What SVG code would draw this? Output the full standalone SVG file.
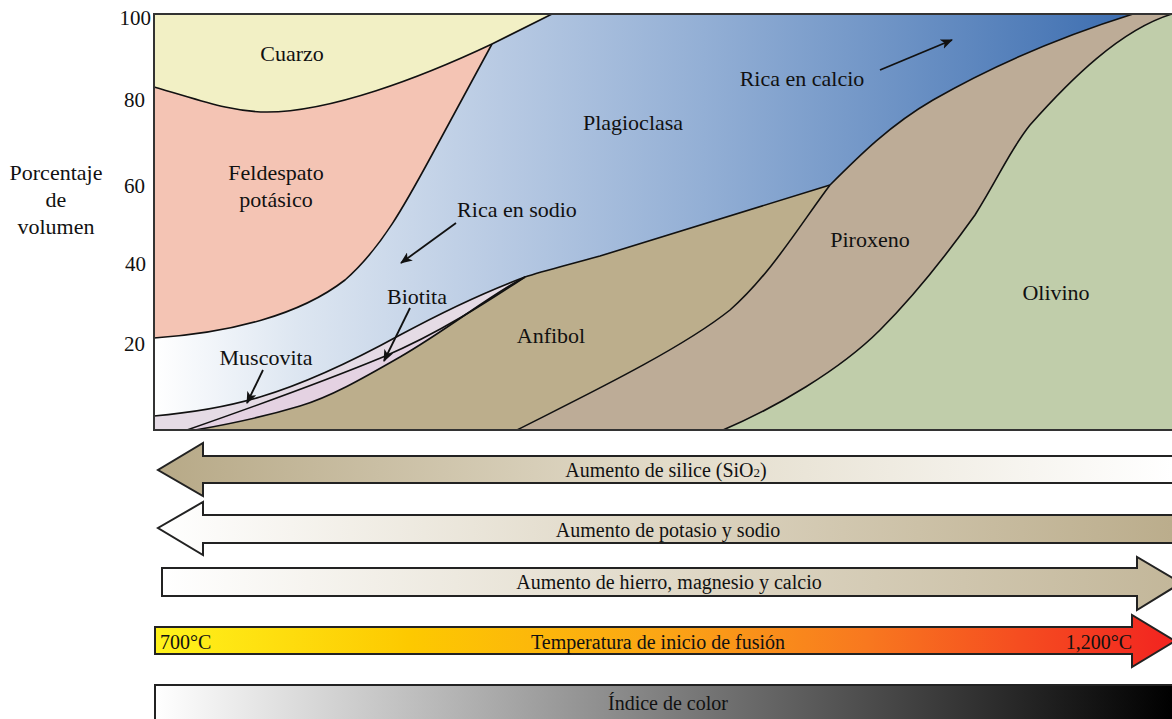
<svg xmlns="http://www.w3.org/2000/svg" width="1172" height="719" viewBox="0 0 1172 719">
<style>
text{font-family:"Liberation Serif","Times New Roman",serif;fill:#111}
.lbl{font-size:22px;text-anchor:middle}
.num{font-size:21px;text-anchor:end}
.bar{font-size:20px;text-anchor:middle}
.bd{fill:none;stroke:#111;stroke-width:1.6;stroke-linejoin:round}
.ptr{stroke:#111;stroke-width:1.8;marker-end:url(#ah)}
.arr{stroke:#222;stroke-width:2}
</style>
<defs>
<marker id="ah" viewBox="0 0 12 10" refX="11" refY="5" markerWidth="12" markerHeight="10" markerUnits="userSpaceOnUse" orient="auto"><path d="M0,0L12,5L0,10L3,5Z" fill="#111"/></marker>
<linearGradient id="gBlue" gradientUnits="userSpaceOnUse" x1="154" y1="0" x2="1172" y2="0">
<stop offset="0" stop-color="#ffffff"/><stop offset="0.14" stop-color="#dde6f1"/><stop offset="0.34" stop-color="#b8cae3"/><stop offset="0.54" stop-color="#93afd5"/><stop offset="0.74" stop-color="#6b91c4"/><stop offset="0.94" stop-color="#4171b2"/><stop offset="1" stop-color="#3a68aa"/>
</linearGradient>
<linearGradient id="gSil" gradientUnits="userSpaceOnUse" x1="158" y1="0" x2="1172" y2="0">
<stop offset="0" stop-color="#b7a987"/><stop offset="0.5" stop-color="#e2dbc9"/><stop offset="1" stop-color="#ffffff"/>
</linearGradient>
<linearGradient id="gPot" gradientUnits="userSpaceOnUse" x1="158" y1="0" x2="1172" y2="0">
<stop offset="0" stop-color="#ffffff"/><stop offset="0.5" stop-color="#ddd5c2"/><stop offset="1" stop-color="#bbad8c"/>
</linearGradient>
<linearGradient id="gFe" gradientUnits="userSpaceOnUse" x1="162" y1="0" x2="1172" y2="0">
<stop offset="0" stop-color="#ffffff"/><stop offset="0.5" stop-color="#e0d9c8"/><stop offset="1" stop-color="#c3b79a"/>
</linearGradient>
<linearGradient id="gT" gradientUnits="userSpaceOnUse" x1="155" y1="0" x2="1172" y2="0">
<stop offset="0" stop-color="#fff21c"/><stop offset="0.25" stop-color="#fdc900"/><stop offset="0.5" stop-color="#fba515"/><stop offset="0.7" stop-color="#f8781f"/><stop offset="0.85" stop-color="#f54d20"/><stop offset="1" stop-color="#f22420"/>
</linearGradient>
<linearGradient id="gC" gradientUnits="userSpaceOnUse" x1="155" y1="0" x2="1172" y2="0">
<stop offset="0" stop-color="#ffffff"/><stop offset="1" stop-color="#000000"/>
</linearGradient>
</defs>

<g id="chart">
<rect x="154" y="14" width="1020" height="416" fill="url(#gBlue)"/>
</g>
<g id="cuarzo">
<path d="M154,14 L552,14 L492,44 C420,78 330,112 267,112 C230,112 200,100 154,87 Z" fill="#f2f0c5"/>
<text class="lbl" x="292" y="61">Cuarzo</text>
</g>
<g id="feldespato">
<path d="M154,87 C200,100 230,112 267,112 C330,112 420,78 492,44 L440,140 C410,195 385,245 345,280 C300,315 230,333 154,338 Z" fill="#f4c4b4"/>
<text class="lbl" x="276" y="180">Feldespato</text>
<text class="lbl" x="276" y="207">potásico</text>
</g>
<g id="muscovita">
<path d="M154,416 C200,412 230,406 260,397 C310,382 360,357 400,335 C450,308 490,290 525,277 C490,300 440,333 383,357 C320,383 250,408 187,430 L154,430 Z" fill="#e5dbe5"/>
<text class="lbl" x="266" y="365">Muscovita</text>
</g>
<g id="biotita">
<path d="M187,430 C250,408 320,383 383,357 C440,333 490,300 525,277 C490,295 450,328 400,357 C360,380 330,397 300,406 C270,415 230,424 195,430 Z" fill="#e4d2e2"/>
<text class="lbl" x="417" y="304">Biotita</text>
</g>
<g id="anfibol">
<path d="M195,430 C230,424 270,415 300,406 C330,397 360,380 400,357 C450,328 490,295 525,277 C540,272 560,267 600,256 L830,185 C800,225 770,275 730,310 C680,350 580,398 517,430 Z" fill="#bcae8c"/>
<text class="lbl" x="551" y="343">Anfibol</text>
</g>
<g id="piroxeno">
<path d="M830,185 C860,155 890,125 933,100 C980,73 1050,40 1133,14 L1174,14 L1174,430 L517,430 C580,398 680,350 730,310 C770,275 800,225 830,185 Z" fill="#bdac97"/>
<text class="lbl" x="870" y="247">Piroxeno</text>
</g>
<g id="olivino">
<path d="M723,430 C775,408 840,370 880,330 C920,290 950,250 975,215 C1000,175 1010,150 1030,125 C1070,80 1120,30 1172,14 L1174,14 L1174,430 Z" fill="#c0cdaa"/>
<text class="lbl" x="1056" y="300">Olivino</text>
</g>
<g id="plagioclasa">
<text class="lbl" x="633" y="130">Plagioclasa</text>
<text class="lbl" x="517" y="217">Rica en sodio</text>
<text class="lbl" x="802" y="86">Rica en calcio</text>
</g>

<g id="connectors">
<path class="bd" d="M154,87 C200,100 230,112 267,112 C330,112 420,78 492,44 L552,14"/>
<path class="bd" d="M154,338 C230,333 300,315 345,280 C385,245 410,195 440,140 L492,44"/>
<path class="bd" d="M154,416 C200,412 230,406 260,397 C310,382 360,357 400,335 C450,308 490,290 525,277"/>
<path class="bd" d="M187,430 C250,408 320,383 383,357 C440,333 490,300 525,277"/>
<path class="bd" d="M195,430 C230,424 270,415 300,406 C330,397 360,380 400,357 C450,328 490,295 525,277"/>
<path class="bd" d="M525,277 C540,272 560,267 600,256 L830,185"/>
<path class="bd" d="M830,185 C860,155 890,125 933,100 C980,73 1050,40 1133,14"/>
<path class="bd" d="M830,185 C800,225 770,275 730,310 C680,350 580,398 517,430"/>
<path class="bd" d="M723,430 C775,408 840,370 880,330 C920,290 950,250 975,215 C1000,175 1010,150 1030,125 C1070,80 1120,30 1172,14"/>
<path d="M1176,14 L154,14 L154,430 L1176,430" fill="none" stroke="#333" stroke-width="2"/>
<line class="ptr" x1="263" y1="370" x2="247" y2="403"/>
<line class="ptr" x1="410" y1="308" x2="384" y2="361"/>
<line class="ptr" x1="456" y1="223" x2="401" y2="263"/>
<line class="ptr" x1="880" y1="70" x2="952" y2="40"/>
</g>

<g id="axis">
<text class="num" x="151" y="25">100</text>
<text class="num" x="145" y="107">80</text>
<text class="num" x="145" y="193">60</text>
<text class="num" x="146" y="271">40</text>
<text class="num" x="145" y="351">20</text>
<text class="lbl" x="56" y="180">Porcentaje</text>
<text class="lbl" x="56" y="207">de</text>
<text class="lbl" x="56" y="234">volumen</text>
</g>

<g id="silice">
<path class="arr" d="M1182,456 L203,456 L203,443 L158,470 L203,496 L203,483 L1182,483 Z" fill="url(#gSil)"/>
<text class="bar" x="666" y="477">Aumento de silice (SiO<tspan font-size="13">2</tspan>)</text>
</g>
<g id="potasio">
<path class="arr" d="M1182,515 L203,515 L203,502 L158,528 L203,555 L203,543 L1182,543 Z" fill="url(#gPot)"/>
<text class="bar" x="668" y="537">Aumento de potasio y sodio</text>
</g>
<g id="hierro">
<path class="arr" d="M162,568 L1137,568 L1137,557 L1181,583 L1137,610 L1137,596 L162,596 Z" fill="url(#gFe)"/>
<text class="bar" x="669" y="589">Aumento de hierro, magnesio y calcio</text>
</g>
<g id="temperatura">
<path class="arr" d="M155,627 L1132,627 L1132,615 L1175,641 L1132,667 L1132,654 L155,654 Z" fill="url(#gT)"/>
<text class="bar" x="160" y="649" text-anchor="start" style="text-anchor:start">700°C</text>
<text class="bar" x="658" y="649">Temperatura de inicio de fusión</text>
<text class="bar" x="1132" y="649" style="text-anchor:end">1,200°C</text>
</g>
<g id="color">
<rect class="arr" x="155" y="685" width="1030" height="50" fill="url(#gC)"/>
<text class="bar" x="668" y="710">Índice de color</text>
</g>
</svg>
